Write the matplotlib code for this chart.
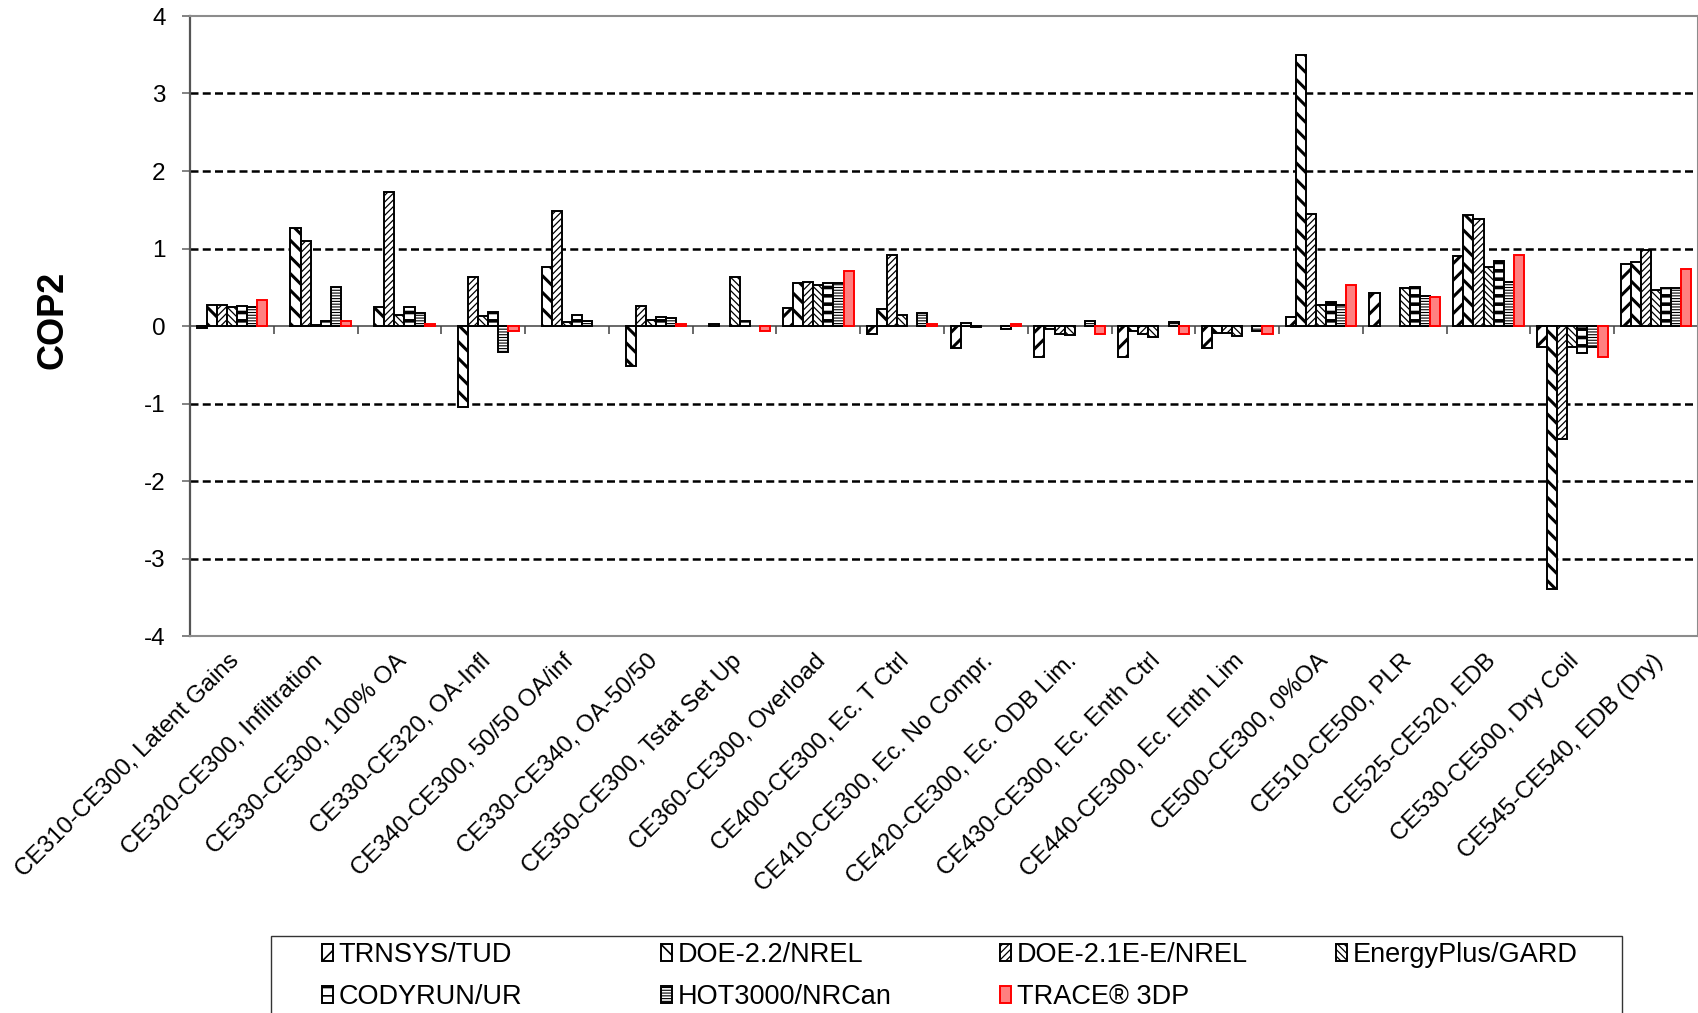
import numpy as np
import matplotlib
matplotlib.use('Agg')
import matplotlib.pyplot as plt
import matplotlib.patches as mpatches
import matplotlib.transforms as mtrans

plt.rcParams['font.family'] = ['Liberation Sans', 'DejaVu Sans']
plt.rcParams['axes.unicode_minus'] = False

# ---------------- data ----------------
categories = [
    "CE310-CE300, Latent Gains",
    "CE320-CE300, Infiltration",
    "CE330-CE300, 100% OA",
    "CE330-CE320, OA-Infl",
    "CE340-CE300, 50/50 OA/inf",
    "CE330-CE340, OA-50/50",
    "CE350-CE300, Tstat Set Up",
    "CE360-CE300, Overload",
    "CE400-CE300, Ec. T Ctrl",
    "CE410-CE300, Ec. No Compr.",
    "CE420-CE300, Ec. ODB Lim.",
    "CE430-CE300, Ec. Enth Ctrl",
    "CE440-CE300, Ec. Enth Lim",
    "CE500-CE300, 0%OA",
    "CE510-CE500, PLR",
    "CE525-CE520, EDB",
    "CE530-CE500, Dry Coil",
    "CE545-CE540, EDB (Dry)",
]

series_names = ["TRNSYS/TUD", "DOE-2.2/NREL", "DOE-2.1E-E/NREL", "EnergyPlus/GARD",
                "CODYRUN/UR", "HOT3000/NRCan", "TRACE\u00ae 3DP"]

nan = np.nan
trnsys   = [-0.03, nan, nan, nan, nan, nan, nan, 0.236, -0.10, -0.29, -0.395, -0.395, -0.29, 0.11, 0.42, 0.90, -0.275, 0.796]
doe22    = [0.27, 1.27, 0.245, -1.04, 0.755, -0.515, 0.02, 0.558, 0.22, 0.035, -0.04, -0.07, -0.085, 3.50, nan, 1.43, -3.39, 0.822]
doe21e   = [0.27, 1.10, 1.73, 0.63, 1.48, 0.26, nan, 0.57, 0.92, -0.01, -0.10, -0.10, -0.095, 1.446, nan, 1.38, -1.46, 0.98]
eplus    = [0.25, 0.01, 0.146, 0.13, 0.056, 0.077, 0.63, 0.528, 0.146, nan, -0.115, -0.145, -0.13, 0.275, 0.486, 0.766, -0.27, 0.47]
codyrun  = [0.26, 0.07, 0.25, 0.18, 0.146, 0.11, 0.06, 0.558, nan, nan, nan, nan, nan, 0.314, 0.508, 0.84, -0.353, 0.495]
hot3000  = [0.245, 0.50, 0.17, -0.33, 0.07, 0.107, nan, 0.558, 0.17, -0.045, 0.06, 0.05, -0.07, 0.267, 0.39, 0.564, -0.275, 0.486]
trace    = [0.34, 0.07, 0.02, -0.06, nan, 0.02, -0.07, 0.71, 0.02, 0.02, -0.10, -0.10, -0.10, 0.534, 0.38, 0.91, -0.405, 0.73]

series_values = [trnsys, doe22, doe21e, eplus, codyrun, hot3000, trace]
yticks = [-4, -3, -2, -1, 0, 1, 2, 3, 4]

# ---------------- styles ----------------
hatches = ['//', '\\\\', '/////', '\\\\\\\\\\', '--', '------', None]
hatch_lws = [2.2, 2.2, 0.9, 0.9, 2.6, 0.8, 1.0]
faces = ['white'] * 6 + ['#FF8080']
edges = ['black'] * 6 + ['#FF0000']

W, H = 1699, 1013
fig = plt.figure(figsize=(W / 100, H / 100), dpi=100)
ax = fig.add_axes([190 / W, 1 - 636 / H, (1698 - 190) / W, (636 - 16) / H])

x = np.arange(len(categories))
bw = 0.1205
handles = []
for k, vals in enumerate(series_values):
    with plt.rc_context({'hatch.linewidth': hatch_lws[k]}):
        bars = ax.bar(x + (k - 3) * bw, np.array(vals, dtype=float), width=bw,
                      facecolor=faces[k], edgecolor=edges[k], linewidth=1.4,
                      hatch=hatches[k], zorder=2, label=series_names[k])
        for b in bars:
            try:
                b.set_hatch_linewidth(hatch_lws[k])
            except Exception:
                pass
    handles.append(bars)

# grid lines (dashed) at non-zero interior ticks
for yv in yticks:
    if yv not in (0, yticks[0], yticks[-1]):
        ax.axhline(yv, color='black', lw=1.8, ls=(0, (3.2, 1.7)), zorder=0.5)

# zero axis line with category-boundary tick marks
ax.axhline(0, color='#404040', lw=1.1, zorder=1.5)
bounds = np.arange(len(categories) + 1) - 0.5
ax.plot(bounds, np.zeros_like(bounds), ls='none', marker=3, ms=5.5, mew=1.1,
        color='#404040', clip_on=False, zorder=1.5)

ax.set_xlim(-0.5, len(categories) - 0.5)
ax.set_ylim(yticks[0], yticks[-1])
ax.set_yticks(yticks)
ax.set_yticklabels([str(v) for v in yticks])
ax.tick_params(axis='y', direction='out', length=5.5, width=1.1, color='#606060',
               labelsize=17.5, pad=12)

ax.set_xticks(x)
ax.set_xticklabels(categories, rotation=45, ha='right', va='top',
                   rotation_mode='anchor', fontsize=17.4)
ax.tick_params(axis='x', length=0, pad=10)
offset = mtrans.ScaledTranslation(-4 / 100, 0, fig.dpi_scale_trans)
for lab in ax.get_xticklabels():
    lab.set_transform(lab.get_transform() + offset)

for s in ['top', 'right', 'bottom']:
    ax.spines[s].set_color('#8c8c8c')
    ax.spines[s].set_linewidth(1.5)
ax.spines['left'].set_color('#555555')
ax.spines['left'].set_linewidth(1.6)

fig.text(53 / W, 1 - 320 / H, 'COP2', rotation=90, ha='center', va='center',
         fontsize=26, fontweight='bold')

# legend frame
fig.patches.append(mpatches.Rectangle((271 / W, -0.02), (1622 - 271) / W, (1013 - 936) / H + 0.02,
                                      transform=fig.transFigure, fill=False,
                                      edgecolor='#333333', lw=1.0, zorder=1))

# legend entries placed on a regular 4-column grid
col_x = [322, 661, 1000, 1336]
row_y = [955, 997]
for k, name in enumerate(series_names):
    r, c = divmod(k, 4)
    with plt.rc_context({'hatch.linewidth': min(hatch_lws[k], 1.2)}):
        leg = fig.legend(handles=[handles[k]], labels=[name], loc='center left',
                         bbox_to_anchor=(col_x[c] / W, 1 - row_y[r] / H),
                         frameon=False, fontsize=19.5, handlelength=0.42,
                         handleheight=0.55, handletextpad=0.2, borderpad=0,
                         borderaxespad=0)

fig.savefig('out.png', dpi=100)
